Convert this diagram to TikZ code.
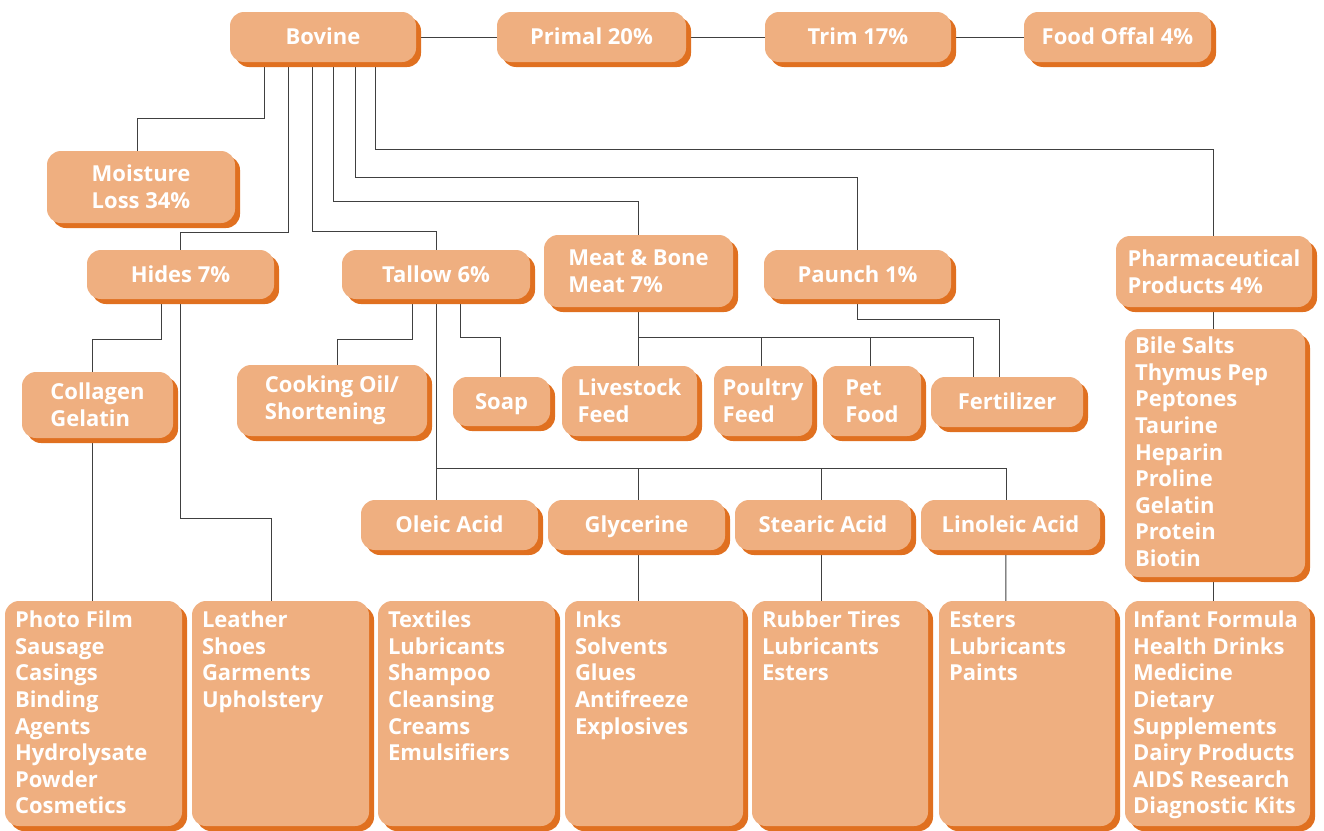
\documentclass[tikz,border=0pt]{standalone}
\usepackage{fontspec}
\setmainfont{Open Sans}
\usepackage{xcolor}
\usepackage{tikz}
\usetikzlibrary{shadows, backgrounds}
\definecolor{boxfill}{RGB}{239,175,128}
\definecolor{boxedge}{RGB}{224,112,32}
\definecolor{linkgray}{RGB}{64,64,64}
\newcommand{\itemlist}[3]{\parbox[c][#2][t]{#1}{\begin{tabular}[t]{@{}l@{}}#3\end{tabular}}}

\begin{document}
\begin{tikzpicture}[x=1pt, y=-1pt,
            box/.style={rectangle, rounded corners=14pt, fill=boxfill, text=white, inner sep=0pt,
              font=\fontsize{22}{26.6}\selectfont\bfseries,
              drop shadow={shadow xshift=5pt, shadow yshift=-5pt, fill=boxedge, opacity=1}},
            prod/.style={box, text height=15.7pt, text depth=0pt},
            multi/.style={box, align=left},
            listbox/.style={box, inner xsep=10pt, inner ysep=8pt},
            link/.style={draw=linkgray, line width=1pt}]
            \useasboundingbox (0,0) rectangle (1324,830);

            \node[prod, minimum width=186pt, minimum height=50pt] (bovine) at (323,37) {Bovine};
            \node[prod, minimum width=189pt, minimum height=50pt] (primal) at (591.5,37) {Primal 20\%};
            \node[prod, minimum width=186pt, minimum height=50pt] (trim) at (858,37) {Trim 17\%};
            \node[prod, minimum width=187pt, minimum height=50pt] (offal) at (1117.5,37) {Food Offal 4\%};

            \node[multi, minimum width=188pt, minimum height=72pt] (moisture) at (141,187) {Moisture\\Loss 34\%};

            \node[prod, minimum width=187pt, minimum height=49pt] (hides) at (180.5,274.5) {Hides 7\%};
            \node[prod, minimum width=188pt, minimum height=49pt] (tallow) at (436,274.5) {Tallow 6\%};
            \node[multi, minimum width=189pt, minimum height=72pt] (mbm) at (638.5,271) {Meat \& Bone\\Meat 7\%};
            \node[prod, minimum width=187pt, minimum height=49pt] (paunch) at (857.5,274.5) {Paunch 1\%};
            \node[multi, minimum width=196pt, minimum height=71pt] (pharma) at (1214,271.5) {Pharmaceutical\\Products 4\%};

            \node[multi, minimum width=151pt, minimum height=66pt] (collagen) at (97.5,405) {Collagen\\Gelatin};
            \node[multi, minimum width=190pt, minimum height=71pt] (cooking) at (332,400.5) {Cooking Oil/\\Shortening};
            \node[prod, minimum width=97pt, minimum height=49pt] (soap) at (501.5,401.5) {Soap};
            \node[multi, minimum width=135pt, minimum height=70pt] (livestock) at (629.5,401) {Livestock\\Feed};
            \node[multi, minimum width=98pt, minimum height=70pt] (poultry) at (763,401) {Poultry\\Feed};
            \node[multi, minimum width=98pt, minimum height=70pt] (petfood) at (872,401) {Pet\\Food};
            \node[prod, minimum width=152pt, minimum height=50pt] (fertilizer) at (1007,402) {Fertilizer};

            \node[prod, minimum width=177pt, minimum height=50pt] (oleic) at (449.5,525) {Oleic Acid};
            \node[prod, minimum width=177pt, minimum height=50pt] (glycerine) at (636.5,525) {Glycerine};
            \node[prod, minimum width=176pt, minimum height=50pt] (stearic) at (823,525) {Stearic Acid};
            \node[prod, minimum width=179pt, minimum height=50pt] (linoleic) at (1010.5,525) {Linoleic Acid};

            \node[listbox, inner ysep=6pt] (bile) at (1215,453) {\itemlist{160pt}{236pt}{Bile Salts\\Thymus Pep\\Peptones\\Taurine\\Heparin\\Proline\\Gelatin\\Protein\\Biotin}};

            \node[listbox] (photo) at (93.5,713.5) {\itemlist{157pt}{209pt}{Photo Film\\Sausage\\Casings\\Binding\\Agents\\Hydrolysate\\Powder\\Cosmetics}};
            \node[listbox] (leather) at (280.5,713.5) {\itemlist{157pt}{209pt}{Leather\\Shoes\\Garments\\Upholstery}};
            \node[listbox] (textiles) at (466.5,713.5) {\itemlist{157pt}{209pt}{Textiles\\Lubricants\\Shampoo\\Cleansing\\Creams\\Emulsifiers}};
            \node[listbox] (inks) at (654,713.5) {\itemlist{158pt}{209pt}{Inks\\Solvents\\Glues\\Antifreeze\\Explosives}};
            \node[listbox] (rubber) at (840,713.5) {\itemlist{156pt}{209pt}{Rubber Tires\\Lubricants\\Esters}};
            \node[listbox] (esters) at (1027,713.5) {\itemlist{156pt}{209pt}{Esters\\Lubricants\\Paints}};
            \node[listbox, inner xsep=8pt] (infant) at (1217.5,713.5) {\itemlist{169pt}{209pt}{Infant Formula\\Health Drinks\\Medicine\\Dietary\\Supplements\\Dairy Products\\AIDS Research\\Diagnostic Kits}};

            \coordinate (acidbus) at ([yshift=-193.5pt]tallow.center);
            \coordinate (feedbus) at ([yshift=-66pt]mbm.center);

            \begin{scope}[on background layer]
            \draw[link] (bovine) -- (primal) -- (trim) -- (offal);
            \draw[link] ([xshift=-59pt]bovine.center) -- ++(0,81) -| ([xshift=-4pt]moisture.center);
            \draw[link] ([xshift=-35pt]bovine.center) -- ++(0,195) -| (hides.center);
            \draw[link] ([xshift=-11pt]bovine.center) -- ++(0,194) -| (tallow.center);
            \draw[link] ([xshift=10pt]bovine.center) -- ++(0,164) -| (mbm.center);
            \draw[link] ([xshift=32pt]bovine.center) -- ++(0,140) -| (paunch.center);
            \draw[link] ([xshift=52pt]bovine.center) -- ++(0,112) -| ([xshift=-1pt]pharma.center);

            \draw[link] ([xshift=-19.5pt]hides.center) -- ++(0,64.5) -| ([xshift=-5.5pt]collagen.center);
            \draw[link] (hides.center) -- ++(0,243.5) -| ([xshift=-9.5pt]leather.center);
            \draw[link] ([xshift=-5.5pt]collagen.center) -- ([xshift=-1.5pt]photo.center);

            \draw[link] ([xshift=-24pt]tallow.center) -- ++(0,64.5) -| ([xshift=5pt]cooking.center);
            \draw[link] ([xshift=24pt]tallow.center) -- ++(0,62.5) -| ([xshift=-1.5pt]soap.center);
            \draw[link] (tallow.center) -- (acidbus);
            \foreach \n/\dx in {oleic/-13.5, glycerine/1.5, stearic/-2, linoleic/-4.5}
                \draw[link] ([xshift=\dx pt]\n.center) |- (acidbus);

            \draw[link] (mbm.center) -- (feedbus);
            \foreach \n/\dx in {livestock/8.5, poultry/-2, petfood/-2, fertilizer/-34}
                \draw[link] ([xshift=\dx pt]\n.center) |- (feedbus);
            \draw[link] (paunch.center) -- ++(0,44.5) -| ([xshift=-8pt]fertilizer.center);

            \draw[link] ([xshift=1.5pt]glycerine.center) -- ([xshift=-16pt]inks.center);
            \draw[link] ([xshift=-2pt]stearic.center) -- ([xshift=-19pt]rubber.center);
            \draw[link] ([xshift=-4.5pt]linoleic.center) -- ([xshift=-21.5pt]esters.center);
            \draw[link] ([xshift=-1pt]pharma.center) -- ([xshift=-2pt]bile.center) -- ([xshift=-4.5pt]infant.center);
            \end{scope}
        \end{tikzpicture}
\end{document}
